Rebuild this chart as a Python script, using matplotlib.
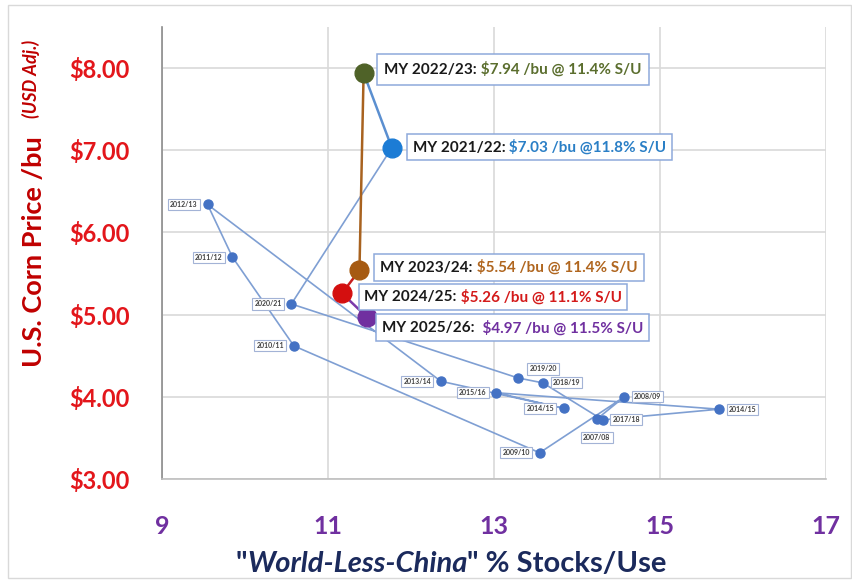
import matplotlib
matplotlib.use("Agg")
import matplotlib.pyplot as plt
from matplotlib.offsetbox import TextArea, HPacker, AnnotationBbox
from matplotlib.patches import Rectangle
from matplotlib.ticker import FuncFormatter

plt.rcParams['font.family'] = ['Lato', 'DejaVu Sans']

# marketing years in order (the chart labels 2016/17 as "2014/15")
years = ["2007/08", "2008/09", "2009/10", "2010/11", "2011/12", "2012/13",
         "2013/14", "2014/15", "2015/16", "2016/17", "2017/18", "2018/19",
         "2019/20", "2020/21", "2021/22", "2022/23", "2023/24", "2024/25",
         "2025/26"]
year_labels = ["2007/08", "2008/09", "2009/10", "2010/11", "2011/12", "2012/13",
               "2013/14", "2014/15", "2015/16", "2014/15", "2017/18", "2018/19",
               "2019/20", "2020/21"]
stocks_use = [14.24, 14.57, 13.55, 10.59, 9.85, 9.55, 12.36, 13.84, 13.03,
              15.71, 14.31, 13.59, 13.29, 10.56, 11.77, 11.43, 11.38, 11.17, 11.47]
price = [3.73, 4.00, 3.32, 4.62, 5.70, 6.34, 4.19, 3.86, 4.05, 3.85, 3.72,
         4.17, 4.23, 5.13, 7.03, 7.94, 5.54, 5.26, 4.97]

recent_years = ["2021/22", "2022/23", "2023/24", "2024/25", "2025/26"]
recent_text = ["$7.03 /bu @11.8% S/U", "$7.94 /bu @ 11.4% S/U",
               "$5.54 /bu @ 11.4% S/U", "$5.26 /bu @ 11.1% S/U",
               " $4.97 /bu @ 11.5% S/U"]
recent_colors = ["#1C7CD5", "#4F6228", "#A65A12", "#D40F0F", "#7030A0"]
text_colors = ["#2A7FC6", "#5B6E2E", "#B0661F", "#D41A1A", "#7030A0"]

line_blue = "#7F9FD3"
dot_blue = "#4472C4"

fig = plt.figure(figsize=(8.52, 5.8), dpi=100)
ax = fig.add_axes([0.190, 0.174, 0.7795, 0.7796])

n_hist = years.index("2021/22")
ax.plot(stocks_use[:n_hist + 1], price[:n_hist + 1], color=line_blue, lw=1.2, zorder=2)
seg_colors = ["#5B8FD0", "#A8621F", "#C81E1E", "#7A3AAA"]
for j, c in enumerate(seg_colors):
    i = n_hist + j
    ax.plot(stocks_use[i:i + 2], price[i:i + 2], color=c, lw=1.8, zorder=3)

ax.plot(stocks_use[:n_hist], price[:n_hist], 'o', color=dot_blue, ms=6.5, zorder=4, lw=0)
for j, name in enumerate(recent_years):
    k = years.index(name)
    ax.plot(stocks_use[k], price[k], 'o', color=recent_colors[j], ms=13.5, zorder=5,
            mec=recent_colors[j])

# small year labels: offset in points and alignment
left = ((-7, 0), 'right')
right = ((7, 0), 'left')
label_pos = {0: ((0, -13), 'center'), 1: right, 2: left, 3: left, 4: left, 5: left,
             6: left, 7: left, 8: left, 9: right, 10: right, 11: right,
             12: ((18, 6.5), 'center'), 13: left}
for i, lab in enumerate(year_labels):
    off, ha = label_pos[i]
    ax.annotate(lab, (stocks_use[i], price[i]), xytext=off, textcoords='offset points',
                ha=ha, va='center', fontsize=5, color='#404040', fontweight='bold',
                bbox=dict(boxstyle='square,pad=0.3', fc='white', ec='#A3B3D6', lw=0.8),
                zorder=6)

# highlighted recent years
big_offsets = {"2021/22": (15, 0.5), "2022/23": (15, 2.5), "2023/24": (15, 2),
               "2024/25": (16, -2.5), "2025/26": (11, -7.5)}
big_pad = {"2021/22": 0.4, "2022/23": 0.55, "2023/24": 0.45, "2024/25": 0.4, "2025/26": 0.45}
for j, name in enumerate(recent_years):
    k = years.index(name)
    box = HPacker(children=[
        TextArea(f"MY {name}:", textprops=dict(color='#1A1A1A', fontsize=11, fontweight='bold')),
        TextArea(" " + recent_text[j], textprops=dict(color=text_colors[j], fontsize=11, fontweight='bold')),
    ], align='baseline', pad=0, sep=0)
    ab = AnnotationBbox(box, (stocks_use[k], price[k]), xybox=big_offsets[name],
                        boxcoords='offset points', box_alignment=(0, 0.5), frameon=True,
                        pad=big_pad[name], bboxprops=dict(ec='#8EA9DB', fc='white', lw=1.1),
                        zorder=7)
    ax.add_artist(ab)

ax.set_xlim(9, 17)
ax.set_ylim(3, 8.5)
ax.set_xticks([9, 11, 13, 15, 17])
ax.set_yticks([3, 4, 5, 6, 7, 8])
ax.yaxis.set_major_formatter(FuncFormatter(lambda v, p: f"${v:.2f}"))
ax.grid(True, color='#D9D9D9', lw=1.2, zorder=0)
ax.set_axisbelow(True)
for s in ['top', 'right']:
    ax.spines[s].set_visible(False)
ax.spines['left'].set_color('#8C8C8C')
ax.spines['bottom'].set_color('#BFBFBF')
ax.spines['left'].set_linewidth(1.2)
ax.spines['bottom'].set_linewidth(1.2)
ax.tick_params(axis='y', length=0, pad=23, labelsize=17, labelcolor='#E3161B')
ax.tick_params(axis='x', length=0, pad=26, labelsize=18, labelcolor='#7030A0')
for t in ax.get_xticklabels() + ax.get_yticklabels():
    t.set_fontweight('bold')

# axis titles
fig.text(34 / 852, 1 - 252 / 580, "U.S. Corn Price /bu", rotation=90, ha='center',
         va='center', fontsize=19.5, fontweight='bold', color='#C00000')
fig.text(31 / 852, 1 - 79 / 580, "(USD Adj.)", rotation=90, ha='center', va='center',
         fontsize=13, fontweight='bold', style='italic', color='#C00000')

xlab = HPacker(children=[
    TextArea('"', textprops=dict(fontsize=21, fontweight='bold', color='#1B2A5C')),
    TextArea('World-Less-China', textprops=dict(fontsize=21, fontweight='bold', style='italic', color='#1B2A5C')),
    TextArea('" % Stocks/Use', textprops=dict(fontsize=21, fontweight='bold', color='#1B2A5C')),
], align='baseline', pad=0, sep=0)
fig.add_artist(AnnotationBbox(xlab, (451 / 852, 1 - 564 / 580), xycoords='figure fraction',
                              frameon=False, box_alignment=(0.5, 0.5)))

fig.add_artist(Rectangle((8 / 852, 2 / 580), 843 / 852, 573 / 580, transform=fig.transFigure,
                         fill=False, ec='#D9D9D9', lw=1))

fig.savefig("out.png", dpi=100)
